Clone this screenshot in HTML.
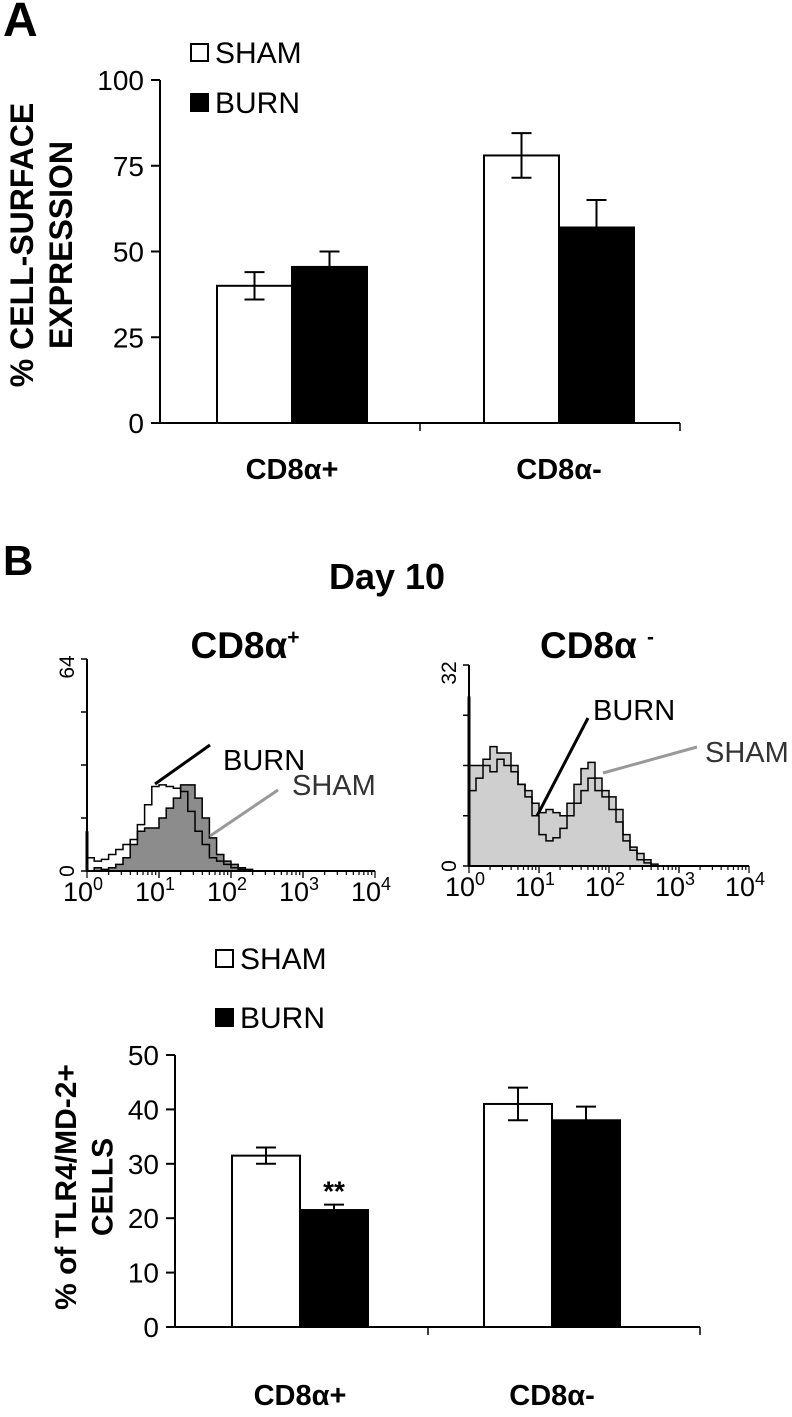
<!DOCTYPE html>
<html><head><meta charset="utf-8"><style>
body{margin:0;background:#fff;}
svg{display:block;font-family:"Liberation Sans",Arial,sans-serif;}
</style></head><body>
<svg id="s" width="792" height="1417" viewBox="0 0 792 1417">
<text x="3" y="36" font-size="48" font-weight="bold">A</text>
<text x="3" y="575" font-size="42" font-weight="bold">B</text>
<text x="387" y="589" font-size="36" font-weight="bold" text-anchor="middle">Day 10</text>
<text x="245" y="658" font-size="37" font-weight="bold" text-anchor="middle">CD8α<tspan font-size="21" dy="-14">+</tspan></text>
<text x="597" y="658" font-size="37" font-weight="bold" text-anchor="middle">CD8α <tspan font-size="21" dy="-14">-</tspan></text>
<g id="gA"></g>
<g id="gH1"></g>
<g id="gH2"></g>
<g id="gC"></g>
</svg>
<script>
const categoriesA = ["CD8α+", "CD8α-"];
const shamA = [40, 78];
const burnA = [45.5, 57];
const shamErrA = [4, 6.5];
const burnErrA = [4.5, 8];
const ticksA = [0, 25, 50, 75, 100];

const categoriesC = ["CD8α+", "CD8α-"];
const shamC = [31.5, 41];
const burnC = [21.5, 38];
const shamErrC = [1.5, 3];
const burnErrC = [1, 2.5];
const ticksC = [0, 10, 20, 30, 40, 50];

const histBins = [0,0.1,0.2,0.3,0.4,0.5,0.6,0.7,0.8,0.9,1.0,1.1,1.2,1.3,1.4,1.5,1.6,1.7,1.8,1.9,2.0,2.1,2.2,2.3,2.4,2.5,2.6,2.7];
const h1Burn = [4,3,3.5,5,6.5,8,9.5,14,20,25.5,26,25.5,25,24,18,12,8,4,3,2,1,0.5,0,0,0,0,0,0];
const h1Sham = [0,1,0.5,1,2,4,8,12,13,13,16,19,22,26,26,22,16,10,5,3,2,1,0.5,0,0,0,0,0];
const h2Sham = [16,16,17,19,18,18,16,13,12,10,8.5,9,8.5,8,10,13,15.5,16.5,14,12,11,9,5,3,2,1,0.3,0];
const h2Burn = [12,14,16,15,17,16,15,13,11,8,5,4,4.5,6,8,10,12,14,12,11,9,7,4,2.5,1,0.5,0,0];

const NS="http://www.w3.org/2000/svg";
function mk(p,t,a,txt){const e=document.createElementNS(NS,t);for(const k in a)e.setAttribute(k,a[k]);if(txt!==undefined)e.textContent=txt;p.appendChild(e);return e;}

function barChart(g,o){
  const y=v=>o.y0-(v-o.min)/(o.max-o.min)*(o.y0-o.yTop);
  let e=mk(g,'line',{x1:o.ax,y1:o.yTop,x2:o.ax,y2:o.y0,stroke:'#000','stroke-width':2});
  
  e=mk(g,'line',{x1:o.ax,y1:o.y0,x2:o.axEnd,y2:o.y0,stroke:'#000','stroke-width':2});
  
  o.ticks.forEach(t=>{
    mk(g,'line',{x1:o.ax-9,y1:y(t),x2:o.ax,y2:y(t),stroke:'#000','stroke-width':2});
    e=mk(g,'text',{x:o.ax-16,y:y(t)+10,'font-size':o.fs,'text-anchor':'end'},String(t));
    
  });
  mk(g,'line',{x1:o.mid,y1:o.y0,x2:o.mid,y2:o.y0+8,stroke:'#000','stroke-width':1.5});
  mk(g,'line',{x1:o.axEnd,y1:o.y0,x2:o.axEnd,y2:o.y0+8,stroke:'#000','stroke-width':1.5});
  o.cats.forEach((c,i)=>{
    const gx=o.gx[i];
    [[o.sham,o.shamE,'#fff',gx-o.bw],[o.burn,o.burnE,'#000',gx]].forEach((s,j)=>{
      const v=s[0][i],er=s[1][i];
      let r=mk(g,'rect',{x:s[3],y:y(v),width:o.bw,height:o.y0-y(v),fill:s[2],stroke:'#000','stroke-width':2});
      
      const cx=s[3]+o.bw/2;
      mk(g,'line',{x1:cx,y1:y(v+er),x2:cx,y2:j?y(v):y(v-er),stroke:'#000','stroke-width':2});
      mk(g,'line',{x1:cx-10,y1:y(v+er),x2:cx+10,y2:y(v+er),stroke:'#000','stroke-width':2});
      if(!j) mk(g,'line',{x1:cx-10,y1:y(v-er),x2:cx+10,y2:y(v-er),stroke:'#000','stroke-width':2});
    });
    e=mk(g,'text',{x:gx,y:o.catY,'font-size':o.cfs,'font-weight':'bold','text-anchor':'middle'},c);
    
  });
  const tt=mk(g,'text',{transform:`translate(${o.titleX},${o.titleY}) rotate(-90)`,'font-size':o.tfs,'font-weight':'bold','text-anchor':'middle'});
  
  mk(tt,'tspan',{x:0,dy:0},o.title[0]);mk(tt,'tspan',{x:0,dy:o.tfs*1.22},o.title[1]);
  [['SHAM','#fff',o.legY[0]],['BURN','#000',o.legY[1]]].forEach(l=>{
    let r=mk(g,'rect',{x:o.legX,y:l[2]-18,width:17,height:17,fill:l[1],stroke:'#000','stroke-width':2});
    
    r=mk(g,'text',{x:o.legX+24,y:l[2]+1,'font-size':o.lfs},l[0]);
    
  });
  return y;
}
barChart(document.getElementById('gA'),{ax:160,axEnd:680,mid:420,yTop:80,y0:423,min:0,max:100,ticks:ticksA,cats:categoriesA,sham:shamA,burn:burnA,shamE:shamErrA,burnE:burnErrA,gx:[292,559],bw:75,catY:479,fs:28,lfs:30,cfs:29,tfs:32,title:['% CELL-SURFACE','EXPRESSION'],titleX:33,titleY:245,legX:191,legY:[62,112]});
const yC=barChart(document.getElementById('gC'),{ax:175,axEnd:700,mid:428,yTop:1055,y0:1327,min:0,max:50,ticks:ticksC,cats:categoriesC,sham:shamC,burn:burnC,shamE:shamErrC,burnE:burnErrC,gx:[300,552],bw:68,catY:1405,fs:28,lfs:30,cfs:29,tfs:30,title:['% of TLR4/MD-2+','CELLS'],titleX:76,titleY:1187,legX:216,legY:[968,1027]});
let st=mk(document.getElementById('gC'),'text',{x:334,y:yC(burnC[0]+burnErrC[0])-4,'font-size':28,'font-weight':'bold','text-anchor':'middle'},'**');


function hist(g,o){
  const x=l=>o.x0+l*o.dec, y=c=>o.y0-c/o.max*(o.y0-o.yTop);
  function path(arr){let d=`M${x(0)},${o.y0}`;arr.forEach((c,i)=>{d+=`L${x(histBins[i])},${y(c)}L${x(histBins[i]+0.1)},${y(c)}`;});return d+`L${x(histBins[histBins.length-1]+0.1)},${o.y0}Z`;}
  let e=mk(g,'path',{d:path(o.fill),fill:o.fillC,stroke:'#000','stroke-width':1.5});
  
  e=mk(g,'path',{d:path(o.line),fill:'none',stroke:'#000','stroke-width':1.5});
  
  mk(g,'line',{x1:o.x0,y1:o.y0,x2:o.x0,y2:y(o.spike),stroke:'#000','stroke-width':3});
  mk(g,'line',{x1:o.x0,y1:o.yTop,x2:o.x0,y2:o.y0,stroke:'#000','stroke-width':2});
  mk(g,'line',{x1:o.x0,y1:o.y0,x2:x(4),y2:o.y0,stroke:'#000','stroke-width':2});
  for(let k=0;k<=4;k++){const ty=o.y0-k/4*(o.y0-o.yTop);mk(g,'line',{x1:o.x0-6,y1:ty,x2:o.x0,y2:ty,stroke:'#000','stroke-width':1.5});}
  for(let d=0;d<4;d++)for(let m=1;m<=10;m++){const xx=x(d+Math.log10(m));mk(g,'line',{x1:xx,y1:o.y0,x2:xx,y2:o.y0+(m==1||m==10?7:4),stroke:'#000','stroke-width':1.2});}
  for(let d=0;d<=4;d++){e=mk(g,'text',{x:x(d)-4,y:o.y0+30,'font-size':27,'text-anchor':'middle'});mk(e,'tspan',{},'10');mk(e,'tspan',{'font-size':18,dy:-11},String(d));
    }
  e=mk(g,'text',{transform:`translate(${o.x0-13},${o.y0}) rotate(-90)`,'font-size':21,'text-anchor':'middle'},'0');
  e=mk(g,'text',{transform:`translate(${o.x0-13},${o.yTop+8}) rotate(-90)`,'font-size':21,'text-anchor':'middle'},String(o.max));
  
  o.labels.forEach(l=>{mk(g,'line',{x1:l[0],y1:l[1],x2:l[2],y2:l[3],stroke:l[6],'stroke-width':3});
    const t=mk(g,'text',{x:l[4],y:l[5],'font-size':29,fill:l[8]},l[7]);});
}
hist(document.getElementById('gH1'),{x0:87,dec:72,y0:871,yTop:659,max:64,fill:h1Sham,line:h1Burn,fillC:'#8c8c8c',spike:12,
  labels:[[155,784,210,745,223,770,'#000','BURN','#000'],[210,836,278,790,292,795,'#999','SHAM','#333']]});
hist(document.getElementById('gH2'),{x0:469,dec:70,y0:866,yTop:665,max:32,fill:h2Sham,line:h2Burn,fillC:'#cfcfcf',spike:27,
  labels:[[537,816,588,718,593,720,'#000','BURN','#000'],[603,773,697,747,705,762,'#999','SHAM','#333']]});
</script>
</body></html>
